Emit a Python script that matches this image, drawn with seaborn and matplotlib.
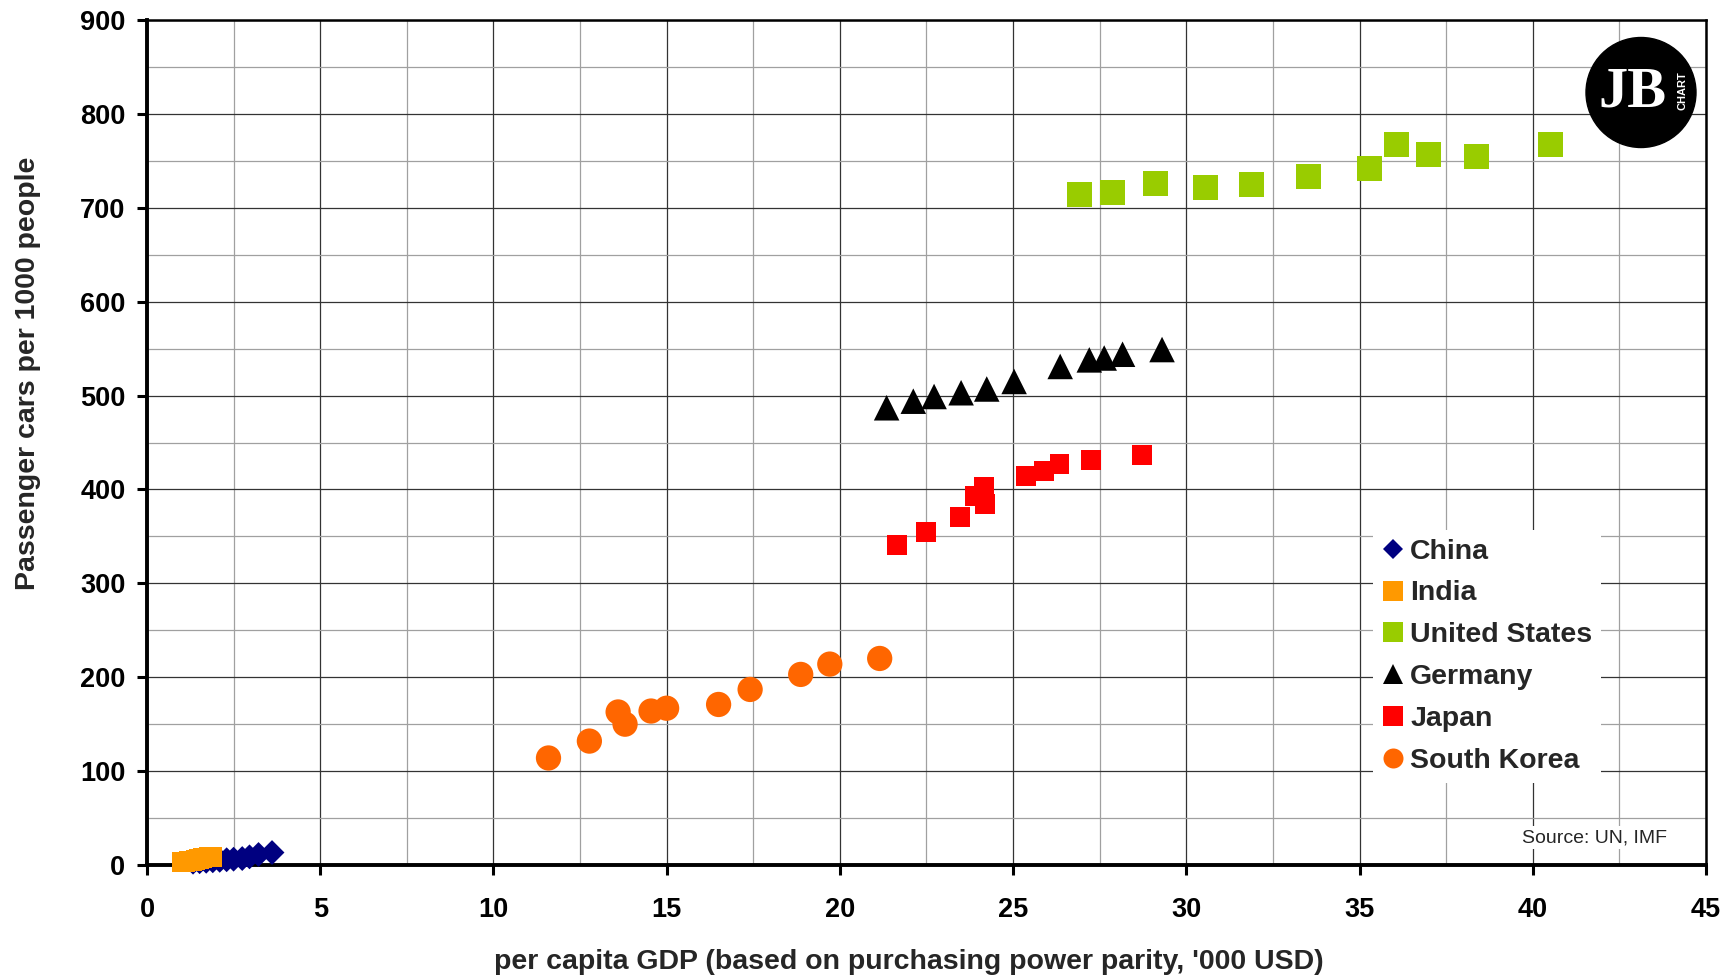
import numpy as np
import matplotlib
matplotlib.use("Agg")
from matplotlib import pyplot as plt
from matplotlib.lines import Line2D
from matplotlib.patches import Circle
import seaborn as sns

sns.set_style("white")
plt.rcParams["font.family"] = ["Liberation Sans", "DejaVu Sans"]
plt.rcParams["font.weight"] = "bold"

# per capita GDP ('000 USD, PPP) and passenger cars per 1000 people
china_x = [1.33, 1.52, 1.71, 1.9, 2.1, 2.3, 2.5, 2.75, 2.96, 3.22, 3.61]
china_y = [3.0, 3.5, 4.0, 4.5, 5.0, 5.6, 6.2, 6.9, 8.7, 11.2, 13.3]
india_x = [1.0, 1.1, 1.2, 1.3, 1.4, 1.5, 1.6, 1.7, 1.8, 1.88]
india_y = [3.2, 3.5, 4.0, 4.6, 5.4, 6.3, 7.2, 7.9, 8.3, 8.5]
us_x = [26.93, 27.86, 29.1, 30.55, 31.88, 33.53, 35.29, 36.08, 36.98, 38.37, 40.5]
us_y = [714, 716, 726, 722, 725, 733, 742, 767, 757, 755, 767]
germany_x = [21.35, 22.12, 22.72, 23.5, 24.24, 25.03, 26.36, 27.2, 27.63, 28.16, 29.3]
germany_y = [487, 494, 499, 503, 507, 515, 531, 538, 540, 544, 549]
japan_x = [21.65, 22.49, 23.47, 23.91, 24.16, 24.19, 25.37, 25.9, 26.34, 27.24, 28.72]
japan_y = [341, 355, 371, 393, 403, 384, 414, 420, 427, 431, 437]
korea_x = [11.59, 12.77, 13.6, 13.8, 14.55, 15.0, 16.5, 17.41, 18.87, 19.71, 21.15]
korea_y = [114, 132, 163, 150, 164, 167, 171, 187, 203, 214, 220]

countries = ["China", "India", "United States", "Germany", "Japan", "South Korea"]
colors = ["#000080", "#FF9900", "#99CC00", "#000000", "#FF0000", "#FF6600"]
markers = ["D", "s", "s", "^", "s", "o"]
sizes = [160, 200, 324, 338, 207, 331]
legend_ms = [10.2, 14.4, 14.4, 14.4, 14.4, 14.4]

xs = [china_x, india_x, us_x, germany_x, japan_x, korea_x]
ys = [china_y, india_y, us_y, germany_y, japan_y, korea_y]

fig = plt.figure(figsize=(17.33, 9.75), dpi=100)
ax = fig.add_axes([0.0848, 0.1128, 0.8996, 0.8667])

for x, y, m, c, s in zip(xs, ys, markers, colors, sizes):
    sns.scatterplot(x=x, y=y, marker=m, color=c, s=s, linewidth=0,
                    edgecolor="none", ax=ax, zorder=3, clip_on=False, legend=False)

ax.set_xlim(0, 45)
ax.set_ylim(0, 900)
ax.set_xticks(np.arange(0, 46, 5))
ax.set_xticks(np.arange(0, 45.1, 2.5), minor=True)
ax.set_yticks(np.arange(0, 901, 100))
ax.set_yticks(np.arange(0, 901, 50), minor=True)
ax.set_axisbelow(True)
ax.grid(which="major", color="#333333", lw=0.9)
ax.grid(which="minor", color="#a0a0a0", lw=0.9)

for sp in ["left", "bottom"]:
    ax.spines[sp].set_linewidth(2.8)
    ax.spines[sp].set_color("black")
for sp in ["top", "right"]:
    ax.spines[sp].set_linewidth(1.8)
    ax.spines[sp].set_color("black")

ax.tick_params(which="major", direction="out", length=7, width=2.2,
               labelsize=19.5, colors="black", bottom=True, left=True)
ax.tick_params(axis="x", pad=16)
ax.tick_params(axis="y", pad=8.5)
ax.tick_params(which="minor", length=0)

ax.set_xlabel("per capita GDP (based on purchasing power parity, '000 USD)",
              fontsize=20.5, fontweight="bold")
ax.xaxis.set_label_coords(0.4888, -0.123)
ax.xaxis.label.set_va("baseline")
ax.set_ylabel("Passenger cars per 1000 people", fontsize=20.5, fontweight="bold")
ax.yaxis.set_label_coords(-0.0766, 0.5815)
ax.yaxis.label.set_va("center")
ax.yaxis.label.set_ha("center")

handles = [Line2D([], [], ls="none", marker=m, color=c, markersize=ms, markeredgewidth=0)
           for m, c, ms in zip(markers, colors, legend_ms)]
ax.legend(handles, countries, loc="upper left", bbox_to_anchor=(0.7923, 0.4564),
          bbox_transform=fig.transFigure, frameon=True, fancybox=False,
          edgecolor="none", facecolor="white", framealpha=1, fontsize=20.5,
          handlelength=0.8, handletextpad=0.2, labelspacing=0.56,
          borderpad=0.3, borderaxespad=0)

ax.text(0.975, 0.0272, "Source: UN, IMF", transform=ax.transAxes, ha="right",
        va="baseline", fontsize=14, fontweight="normal", zorder=4,
        bbox=dict(facecolor="white", edgecolor="none", pad=2))

# logo
lax = fig.add_axes([(1641 - 60) / 1733, 1 - (92.5 + 60) / 975, 120 / 1733, 120 / 975])
lax.set_xlim(-60, 60)
lax.set_ylim(-60, 60)
lax.axis("off")
lax.add_patch(Circle((0, 0), 55, color="black"))
lax.text(-8, 0, "JB", color="white", fontsize=42, family="Liberation Serif",
         fontweight="bold", ha="center", va="center")
lax.text(42, 2, "CHART", color="white", fontsize=8, rotation=90,
         fontweight="bold", ha="center", va="center")

fig.savefig("out.png", dpi=100)
